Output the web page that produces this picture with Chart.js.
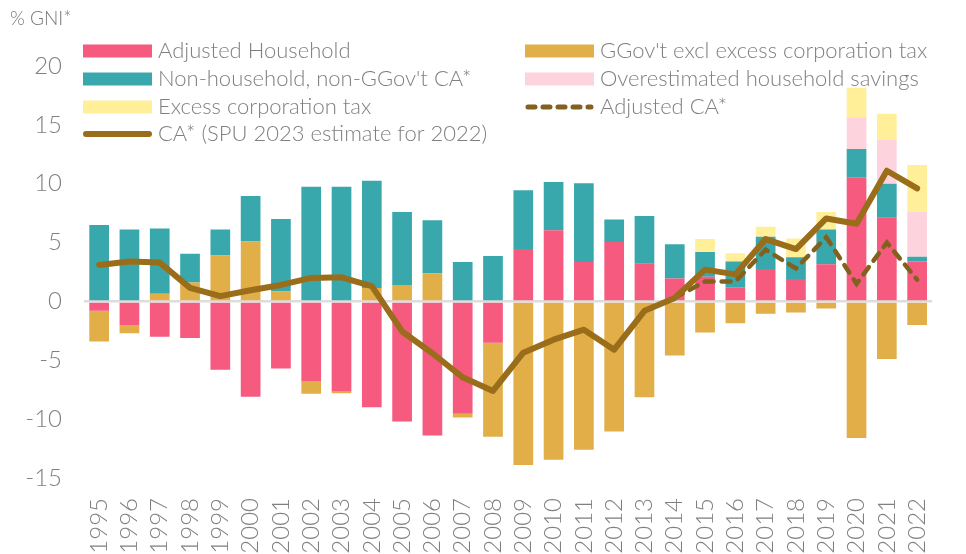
<!DOCTYPE html>
<html>
<head>
<meta charset="utf-8">
<script src="https://cdn.jsdelivr.net/npm/chart.js@4"></script>
<style>
  html, body { margin: 0; padding: 0; background: #fff; }
  .wrap { position: relative; width: 966px; height: 554px; }
  .unit { position: absolute; left: 10px; top: 6px; font: 300 19px Lato, sans-serif; color: #777; }
</style>
</head>
<body>
<div class="wrap">
  <canvas id="chart" width="966" height="554"></canvas>
  <div class="unit">% GNI*</div>
</div>
<script>
const years = [ '1995', '1996', '1997', '1998', '1999', '2000', '2001', '2002', '2003', '2004',
                '2005', '2006', '2007', '2008', '2009', '2010', '2011', '2012', '2013', '2014',
                '2015', '2016', '2017', '2018', '2019', '2020', '2021', '2022' ];

const adjHousehold = [ -0.8, -2.0, -3.0, -3.1, -5.8, -8.1, -5.7, -6.8, -7.65, -9.0,
                       -10.2, -11.4, -9.55, -3.5, 4.45, 6.05, 3.35, 5.05, 3.2, 1.95,
                       2.1, 1.2, 2.75, 1.9, 3.15, 10.55, 7.1, 3.4 ];
const ggov = [ -2.6, -0.7, 0.65, 1.6, 3.9, 5.1, 0.85, -1.05, -0.15, 1.15,
               1.4, 2.4, -0.3, -8.0, -13.9, -13.45, -12.6, -11.05, -8.15, -4.6,
               -2.65, -1.85, -1.05, -0.95, -0.6, -11.6, -4.9, -2.0 ];
const nonHousehold = [ 6.5, 6.1, 5.55, 2.45, 2.2, 3.85, 6.15, 9.75, 9.75, 9.1,
                       6.2, 4.5, 3.35, 3.85, 5.0, 4.1, 6.7, 1.9, 4.05, 2.9,
                       2.1, 2.2, 2.75, 1.85, 2.95, 2.4, 2.9, 0.4 ];
const overestSavings = [ null, null, null, null, null, null, null, null, null, null,
                         null, null, null, null, null, null, null, null, null, null,
                         null, null, null, null, null, 2.7, 3.75, 3.8 ];
const excessCorpTax = [ null, null, null, null, null, null, null, null, null, null,
                        null, null, null, null, null, null, null, null, null, null,
                        1.1, 0.7, 0.85, 1.6, 1.5, 2.5, 2.2, 4.0 ];
const adjustedCA = [ null, null, null, null, null, null, null, null, null, null,
                     null, null, null, null, null, null, null, null, null, 0.3,
                     1.7, 1.7, 4.4, 2.8, 5.45, 1.5, 5.0, 1.85 ];
const caStar = [ 3.1, 3.4, 3.3, 1.15, 0.45, 0.95, 1.4, 2.0, 2.05, 1.3,
                 -2.55, -4.4, -6.45, -7.6, -4.35, -3.25, -2.4, -4.1, -0.8, 0.3,
                 2.7, 2.3, 5.3, 4.45, 7.05, 6.6, 11.1, 9.6 ];

const yTicks = [ -15, -10, -5, 0, 5, 10, 15, 20 ];

const COLOURS = {
    household: '#F65A7F',
    ggov:      '#E1AE47',
    nonHh:     '#38A8AD',
    overest:   '#FDD4DE',
    excess:    '#FFEF99',
    adjCA:     '#82611F',
    ca:        '#9A6D1B',
};

const FONT = 'Lato, "Open Sans", sans-serif';
const TEXT = '#808080';

function bar( label, data, colour ) {
    return { type: 'bar', label, data, backgroundColor: colour, borderWidth: 0, order: 2 };
}

// legend laid out in two columns, same order as datasets
const legendGrid = {
    id: 'legendGrid',
    afterDraw( chart ) {
        const { ctx } = chart;
        const colX = [ 83, 525 ];
        const rowY = [ 51, 79, 107, 134 ];
        ctx.save();
        ctx.font = '300 22px ' + FONT;
        ctx.textBaseline = 'middle';
        chart.data.datasets.forEach( ( ds, i ) => {
            const x = colX[ i % 2 ];
            const y = rowY[ Math.floor( i / 2 ) ];
            if ( ds.type === 'bar' ) {
                ctx.fillStyle = ds.backgroundColor;
                ctx.fillRect( x, y - 6.5, 69, 13 );
            } else {
                ctx.strokeStyle = ds.borderColor;
                ctx.lineWidth = ds.borderDash ? 5 : 6;
                ctx.lineCap = 'round';
                ctx.setLineDash( ds.borderDash ? [ 7, 8 ] : [] );
                ctx.beginPath();
                ctx.moveTo( x + 3, y );
                ctx.lineTo( x + 66, y );
                ctx.stroke();
                ctx.setLineDash( [] );
            }
            ctx.fillStyle = TEXT;
            ctx.fillText( ds.label, x + 75, y );
        } );
        ctx.restore();
    },
};

new Chart( document.getElementById( 'chart' ), {
    data: {
        labels: years,
        datasets: [
            bar( 'Adjusted Household', adjHousehold, COLOURS.household ),
            bar( "GGov't excl excess corporation tax", ggov, COLOURS.ggov ),
            bar( "Non-household, non-GGov't CA*", nonHousehold, COLOURS.nonHh ),
            bar( 'Overestimated household savings', overestSavings, COLOURS.overest ),
            bar( 'Excess corporation tax', excessCorpTax, COLOURS.excess ),
            {
                type: 'line', label: 'Adjusted CA*', data: adjustedCA, stack: 'adj', order: 1,
                borderColor: COLOURS.adjCA, borderWidth: 4.5, borderDash: [ 9, 8 ], borderCapStyle: 'round',
                pointRadius: 0, tension: 0, spanGaps: false,
            },
            {
                type: 'line', label: 'CA* (SPU 2023 estimate for 2022)', data: caStar, stack: 'ca', order: 0,
                borderColor: COLOURS.ca, borderWidth: 6, borderJoinStyle: 'round', borderCapStyle: 'round',
                pointRadius: 0, tension: 0,
            },
        ],
    },
    options: {
        responsive: false,
        animation: false,
        devicePixelRatio: 1,
        layout: { padding: { top: 66, right: 4, left: 0, bottom: 0 } },
        datasets: { bar: { barPercentage: 0.65, categoryPercentage: 1 } },
        plugins: { legend: { display: false }, tooltip: { enabled: false } },
        scales: {
            x: {
                stacked: true,
                grid: { display: false, drawTicks: false },
                border: { display: false },
                ticks: { color: TEXT, font: { family: FONT, size: 24, weight: 300 }, minRotation: 90, maxRotation: 90, padding: 20, autoSkip: false },
                afterFit: ( s ) => { s.height = 76; },
            },
            y: {
                stacked: true,
                min: -15,
                max: 20,
                afterBuildTicks: ( s ) => { s.ticks = yTicks.map( ( v ) => ( { value: v } ) ); },
                grid: {
                    drawTicks: false,
                    color: ( c ) => ( c.tick && c.tick.value === 0 ? '#dddddd' : 'transparent' ),
                    lineWidth: 2.5,
                },
                border: { display: false },
                ticks: { color: TEXT, font: { family: FONT, size: 24, weight: 300 }, padding: 22 },
                afterFit: ( s ) => { s.width = 84; },
            },
        },
    },
    plugins: [ legendGrid ],
} );
</script>
</body>
</html>
